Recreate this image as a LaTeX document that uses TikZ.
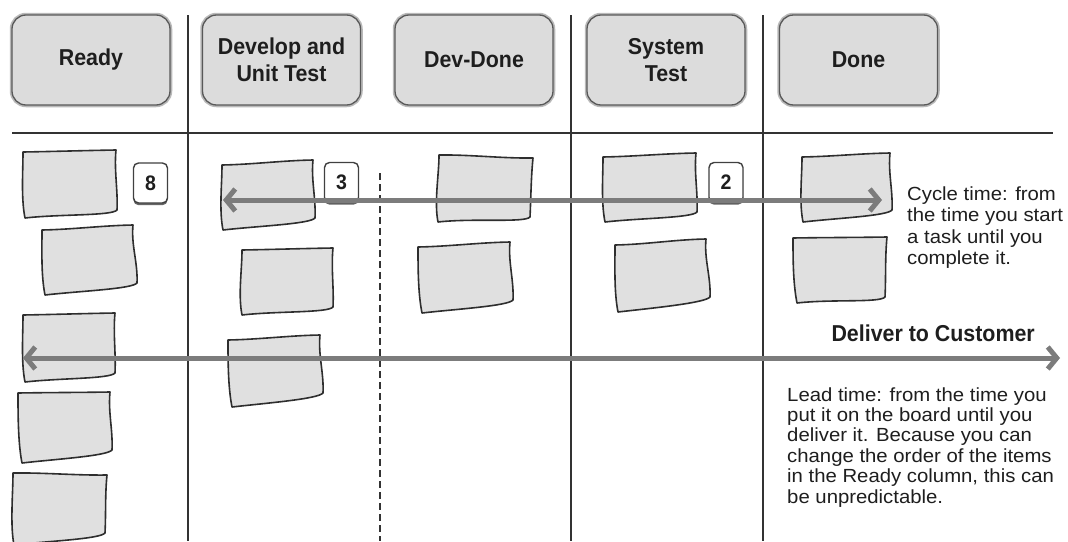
\documentclass[tikz,border=0pt]{standalone}
\usepackage{fontspec}
\setmainfont{Liberation Sans}
\newfontfamily\condfont{Liberation Sans}[FakeStretch=0.93]
\newfontfamily\bodyfont{Liberation Sans}[FakeStretch=1.07]
\usetikzlibrary{arrows.meta}

\definecolor{cardfill}{HTML}{E0E0E0}
\definecolor{headfill}{HTML}{DCDCDC}
\definecolor{flowgray}{HTML}{7C7C7C}
\definecolor{inkline}{HTML}{333333}
\definecolor{inktext}{HTML}{1E1E1E}

\tikzset{
  boardline/.style={draw=inkline, line width=2pt},
  wiplimit/.style={draw=inkline, line width=2pt, dash pattern=on 7pt off 4pt},
  headbox/.style={rounded corners=14pt, minimum width=158pt, minimum height=90pt,
    fill=headfill, draw=black!65, line width=1.3pt,
    preaction={draw=gray!55, line width=4.5pt},
    align=center, text=inktext, font=\condfont\bfseries\fontsize{23}{27.5}\selectfont},
  cardstyle/.style={fill=cardfill, draw=black!82, line width=1.6pt, line join=round},
  counter/.style={rounded corners=5pt, fill=white, draw=black!75, line width=1.4pt,
    minimum width=34pt, minimum height=40pt, inner sep=0pt, text=inktext,
    preaction={fill=black!60, transform canvas={yshift=-2.2pt}},
    font=\condfont\bfseries\fontsize{21}{23}\selectfont},
  flow/.style={draw=flowgray, line width=5pt,
    {Straight Barb[length=9pt,width=22pt]}-{Straight Barb[length=9pt,width=22pt]}},
}

% a hand-drawn sticky note given by its four corners (TL, TR, BR, BL)
\newcommand\drawcard[4]{%
  \draw[cardstyle] (#1) .. controls +(30,-0.5) and +(-30,0.5) .. (#2)
    .. controls +(-2,20) and +(1,-20) .. (#3)
    .. controls +(-5,6) and +(35,-4) .. (#4)
    .. controls +(-4,-20) and +(0,20) .. (#1) -- cycle;}

\begin{document}
\begin{tikzpicture}[x=1pt, y=-1pt]
\useasboundingbox (0,0) rectangle (1068,541);
\fill[white] (0,0) rectangle (1068,541);

% board grid
\draw[boardline] (12,133) -- (1053,133);
\draw[boardline] (188,15) -- (188,541);
\draw[boardline] (571,15) -- (571,541);
\draw[boardline] (763,15) -- (763,541);
\draw[wiplimit] (380,173) -- (380,541);

% column headers
\node[headbox] (hReady) at (91,60) {Ready};
\node[headbox] (hDev)   at (281.5,60) {Develop and\\Unit Test};
\node[headbox] (hDD)    at (474,60) {Dev-Done};
\node[headbox] (hSys)   at (666,60) {System\\Test};
\node[headbox] (hDone)  at (858.5,60) {Done};

% Ready column
\drawcard{23,152}{116,150}{117,210}{25,218}
\drawcard{42,230}{133,225}{137,283}{45,295}
\drawcard{23,315}{115,313}{115,373}{25,382}
\drawcard{18,393}{110,392}{112,450}{22,463}
\drawcard{13,473}{107,475}{105,533}{14,545}
% Develop and Unit Test column
\drawcard{222,165}{313,160}{315,218}{223,230}
\drawcard{242,250}{333,248}{333,307}{242,315}
\drawcard{228,340}{320,335}{323,393}{232,407}
% Dev-Done column
\drawcard{439,155}{533,158}{530,217}{438,222}
\drawcard{418,247}{510,242}{513,300}{422,313}
% System Test column
\drawcard{603,157}{696,153}{697,212}{605,222}
\drawcard{615,245}{706,239}{710,297}{618,312}
% Done column
\drawcard{802,157}{890,153}{892,210}{803,222}
\drawcard{793,238}{887,237}{885,297}{797,303}

% work-in-progress limits
\node[counter] (wipReady) at (150.5,183) {8};
\node[counter] (wipDev)   at (341.5,182.5) {3};
\node[counter] (wipSys)   at (726,182.5) {2};

% cycle time and lead time spans
\coordinate (cycL) at (223,200);
\coordinate (cycR) at (882,200);
\coordinate (leadL) at (23,358);
\coordinate (leadR) at (1060,358);
\draw[flow] (cycL) -- (cycR);
\draw[flow] (leadL) -- (leadR);

% annotations
\node[anchor=base west, inner sep=0pt, text=inktext] (cycText) at (907,200)
  {\parbox[t]{170pt}{\raggedright\bodyfont\fontsize{19}{21.5}\selectfont
   Cycle time: from\\the time you start\\a task until you\\complete it.}};
\node[anchor=base east, inner sep=0pt, text=inktext,
      font=\condfont\bfseries\fontsize{23}{27.5}\selectfont]
  (deliver) at (1035,341) {Deliver to Customer};
\node[anchor=base west, inner sep=0pt, text=inktext] (leadText) at (787,401)
  {\parbox[t]{280pt}{\raggedright\bodyfont\fontsize{19}{20.4}\selectfont
   Lead time: from the time you\\put it on the board until you\\deliver it. Because you can\\change the order of the items\\in the Ready column, this can\\be unpredictable.}};
\end{tikzpicture}
\end{document}
